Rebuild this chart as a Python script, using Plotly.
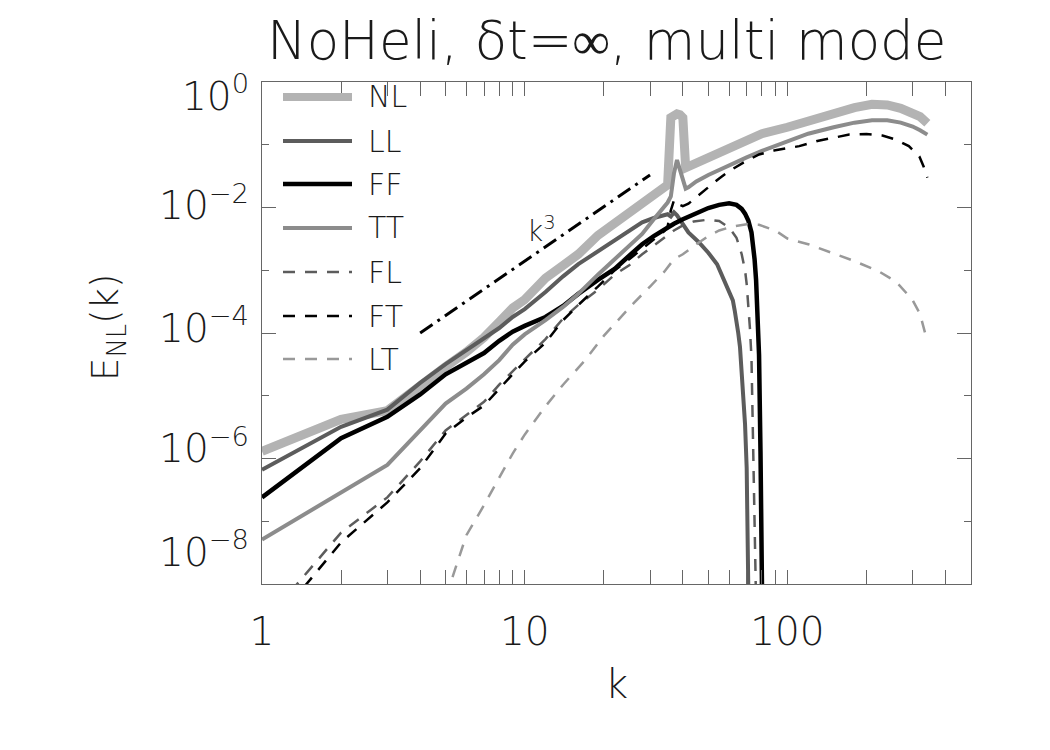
import math
import plotly.graph_objects as go

# ---------------- data ----------------
k_NL = [1, 2, 3, 4, 5, 6, 7, 8, 9, 10, 12, 14, 16, 19, 22, 25, 28, 31, 34, 35,
        36, 37, 38, 39, 40, 41, 42, 45, 50, 60, 70, 80, 100, 120, 150, 180, 210,
        240, 270, 300, 320, 341]
E_NL = [1.3e-6, 4.2e-6, 5.8e-6, 1.5e-5, 2.9e-5, 5.0e-5, 8.5e-5, 1.5e-4, 2.5e-4,
        3.4e-4, 7.5e-4, 1.2e-3, 1.8e-3, 3.6e-3, 5.6e-3, 8.5e-3, 1.2e-2, 1.6e-2,
        2.1e-2, 2.3e-2, 0.27, 0.30, 0.31, 0.30, 0.27, 4.3e-2, 4.5e-2, 5.0e-2,
        6.0e-2, 8.3e-2, 0.11, 0.15, 0.19, 0.24, 0.32, 0.39, 0.44, 0.43, 0.38,
        0.32, 0.28, 0.22]

k_LL = [1, 2, 3, 4, 5, 6, 7, 8, 9, 10, 12, 14, 16, 19, 22, 25, 28, 31, 34, 35,
        36, 37, 38, 40, 42, 46, 50, 54, 58, 62, 63, 64, 65, 66, 67, 68, 69, 70,
        71, 72]
E_LL = [6.6e-7, 3.2e-6, 6.0e-6, 1.6e-5, 3.2e-5, 5.3e-5, 8.0e-5, 1.2e-4, 1.8e-4,
        2.4e-4, 4.5e-4, 8.0e-4, 1.25e-3, 2.0e-3, 3.0e-3, 4.3e-3, 5.8e-3, 6.8e-3,
        7.6e-3, 7.8e-3, 7.2e-3, 8.4e-3, 7.5e-3, 5.5e-3, 4.0e-3, 2.8e-3, 1.9e-3,
        1.25e-3, 6.5e-4, 3.3e-4, 2.3e-4, 1.6e-4, 1.0e-4, 6.0e-5, 2.5e-5, 1.0e-5,
        3.5e-6, 7.0e-7, 3.0e-8, 1.0e-10]

k_FF = [1, 2, 3, 4, 5, 6, 7, 8, 9, 10, 12, 14, 16, 19, 22, 25, 28, 31, 34, 37,
        40, 43, 46, 50, 55, 60, 64, 67, 69, 71, 73, 74, 75, 76, 77, 78, 79, 80,
        81]
E_FF = [2.4e-7, 2.1e-6, 4.6e-6, 1.05e-5, 2.2e-5, 3.3e-5, 4.8e-5, 7.5e-5,
        1.05e-4, 1.3e-4, 1.8e-4, 2.7e-4, 4.2e-4, 7.0e-4, 1.05e-3, 1.7e-3,
        2.6e-3, 3.5e-3, 4.5e-3, 5.5e-3, 6.5e-3, 7.5e-3, 8.6e-3, 9.8e-3, 1.1e-2,
        1.17e-2, 1.1e-2, 9.5e-3, 8.0e-3, 6.2e-3, 4.0e-3, 2.6e-3, 1.5e-3, 7.0e-4,
        2.0e-4, 4.5e-5, 1.3e-6, 2.0e-8, 1.0e-10]

k_TT = [1, 2, 3, 4, 5, 6, 7, 8, 9, 10, 12, 14, 16, 19, 22, 25, 28, 31, 34, 35,
        36, 37, 38, 39, 40, 41, 42, 45, 50, 55, 62, 70, 80, 100, 120, 150, 180,
        210, 240, 270, 300, 320, 341]
E_TT = [5.1e-8, 2.8e-7, 7.9e-7, 2.8e-6, 7.5e-6, 1.3e-5, 2.2e-5, 3.7e-5, 6.5e-5,
        9.5e-5, 1.6e-4, 2.6e-4, 4.2e-4, 8.5e-4, 1.5e-3, 2.4e-3, 3.8e-3, 6.5e-3,
        1.0e-2, 1.2e-2, 1.5e-2, 3.5e-2, 5.7e-2, 4.0e-2, 2.5e-2, 2.0e-2, 2.1e-2,
        2.6e-2, 3.3e-2, 4.0e-2, 5.1e-2, 6.3e-2, 8.0e-2, 0.115, 0.15, 0.19, 0.225,
        0.245, 0.245, 0.225, 0.195, 0.17, 0.145]

k_FL = [1, 2, 3, 4, 5, 6, 7, 8, 9, 10, 12, 14, 16, 19, 22, 25, 28, 31, 34, 37,
        40, 44, 50, 55, 60, 64, 67, 69, 70, 71, 72, 73, 74, 75, 76]
E_FL = [2.2e-9, 6.6e-8, 2.4e-7, 9.0e-7, 2.8e-6, 5.0e-6, 8.0e-6, 1.5e-5, 2.5e-5,
        3.8e-5, 8.0e-5, 1.7e-4, 2.8e-4, 4.9e-4, 8.5e-4, 1.2e-3, 1.8e-3, 2.5e-3,
        3.3e-3, 4.3e-3, 5.2e-3, 6.0e-3, 6.4e-3, 6.1e-3, 4.8e-3, 3.3e-3, 1.8e-3,
        1.0e-3, 6.0e-4, 2.8e-4, 1.2e-4, 4.0e-5, 3.0e-6, 1.5e-7, 5.0e-9]

k_FT = [1, 2, 3, 4, 5, 6, 7, 8, 9, 10, 12, 14, 16, 19, 22, 25, 28, 31, 34, 35,
        36, 37, 38, 39, 40, 42, 46, 50, 55, 60, 68, 78, 90, 111, 130, 150, 172,
        200, 230, 260, 290, 318, 330, 341]
E_FT = [1.4e-9, 4.6e-8, 2.0e-7, 7.0e-7, 2.5e-6, 4.5e-6, 7.0e-6, 1.3e-5, 2.2e-5,
        3.5e-5, 7.0e-5, 1.6e-4, 2.8e-4, 5.5e-4, 1.0e-3, 1.5e-3, 2.2e-3, 3.0e-3,
        4.2e-3, 5.0e-3, 9.0e-3, 1.3e-2, 1.3e-2, 1.1e-2, 1.05e-2, 1.15e-2, 1.6e-2,
        2.1e-2, 2.9e-2, 3.8e-2, 5.2e-2, 7.0e-2, 8.2e-2, 9.5e-2, 0.115, 0.13,
        0.145, 0.148, 0.14, 0.12, 0.095, 0.065, 0.045, 0.03]

k_LT = [5, 6, 7, 8, 9, 10, 11, 12, 14, 17, 20, 23, 26, 30, 34, 37, 38, 40, 45,
        50, 55, 62, 70, 78, 90, 100, 120, 148, 180, 224, 260, 299, 320, 337]
E_LT = [6.0e-9, 6.0e-8, 1.8e-7, 5.0e-7, 1.2e-6, 2.4e-6, 4.2e-6, 6.8e-6, 1.5e-5,
        3.7e-5, 9.0e-5, 1.7e-4, 3.0e-4, 5.5e-4, 9.5e-4, 1.5e-3, 1.6e-3, 1.8e-3,
        2.6e-3, 3.5e-3, 4.3e-3, 5.0e-3, 5.4e-3, 5.3e-3, 4.3e-3, 3.2e-3, 2.6e-3,
        1.9e-3, 1.4e-3, 9.5e-4, 6.5e-4, 3.4e-4, 2.0e-4, 8.8e-5]

k_slope = [4, 30]
E_slope = [1.0e-4, 3.3e-2]

names = ["NL", "LL", "FF", "TT", "FL", "FT", "LT"]
x_ticks = [1, 10, 100]
x_ticktext = ["1", "10", "100"]
x_minor = [2, 3, 4, 5, 6, 7, 8, 9, 20, 30, 40, 50, 60, 70, 80, 90, 200, 300, 400, 500]
y_ticks = [1e-8, 1e-6, 1e-4, 1e-2, 1e0]
y_ticktext = ["10<sup>\u22128</sup>", "10<sup>\u22126</sup>", "10<sup>\u22124</sup>",
              "10<sup>\u22122</sup>", "10<sup>0</sup>"]
y_minor = [1e-7, 1e-5, 1e-3, 1e-1]

# ---------------- styling ----------------
W, H = 1050, 750
L, R, T, B = 262, 79, 82, 166
PW, PH = W - L - R, H - T - B
DECADE_PX = PH / 8.0

def px(x):
    return (x - L) / PW

def py(y):
    return (H - B - y) / PH

# IDL keeps the end labels inside the frame: per-label vertical shift (px, + = down)
y_label_shift = [-32, -10, -5, -2, 14]
y_label_pos = [10 ** (math.log10(v) - s / DECADE_PX) for v, s in zip(y_ticks, y_label_shift)]

FONT = "DejaVu Sans"
TXT = "#1a1a1a"
AX = "#666666"
DASH = "12px,10px"
LIGHT = 200

styles = {
    "NL": dict(color="#b3b3b3", width=9, dash="solid"),
    "LL": dict(color="#5c5c5c", width=4, dash="solid"),
    "FF": dict(color="#000000", width=4.5, dash="solid"),
    "TT": dict(color="#8c8c8c", width=4, dash="solid"),
    "FL": dict(color="#5c5c5c", width=2.5, dash=DASH),
    "FT": dict(color="#000000", width=2.5, dash=DASH),
    "LT": dict(color="#999999", width=2.5, dash=DASH),
}
data = {"NL": (k_NL, E_NL), "LL": (k_LL, E_LL), "FF": (k_FF, E_FF),
        "TT": (k_TT, E_TT), "FL": (k_FL, E_FL), "FT": (k_FT, E_FT),
        "LT": (k_LT, E_LT)}

fig = go.Figure()
for n in names:
    kk, ee = data[n]
    fig.add_trace(go.Scatter(x=kk, y=ee, mode="lines", name=n,
                             line=styles[n], showlegend=False))
# k^3 guide line (drawn on the label axis, which shares the same range)
fig.add_trace(go.Scatter(x=k_slope, y=E_slope, mode="lines", name="k^3",
                         yaxis="y2",
                         line=dict(color="#000000", width=3,
                                   dash="15px,6px,3px,6px"),
                         showlegend=False))

# manual legend (IDL style)
shapes = []
annotations = []
row_y = [97, 141, 184, 228, 272, 316, 359]
for n, yy in zip(names, row_y):
    st = styles[n]
    shapes.append(dict(type="line", xref="paper", yref="paper",
                       x0=px(283), x1=px(352), y0=py(yy), y1=py(yy),
                       line=dict(color=st["color"], width=min(st["width"], 8),
                                 dash=st["dash"])))
    annotations.append(dict(x=px(366), y=py(yy), xref="paper", yref="paper",
                            text=n, showarrow=False, xanchor="left",
                            yanchor="middle",
                            font=dict(family=FONT, size=30, color=TXT, weight=LIGHT)))

annotations += [
    dict(x=px(606), y=py(40), xref="paper", yref="paper",
         text="NoHeli, \u03b4t=\u221e, multi mode", showarrow=False,
         xanchor="center", yanchor="middle",
         font=dict(family=FONT, size=53, color=TXT, weight=LIGHT)),
    dict(x=px(616), y=py(684), xref="paper", yref="paper", text="k",
         showarrow=False, xanchor="center", yanchor="middle",
         font=dict(family=FONT, size=40, color=TXT, weight=LIGHT)),
    dict(x=px(108), y=py(328), xref="paper", yref="paper",
         text="E<sub>NL</sub>(k)", showarrow=False, textangle=-90,
         xanchor="center", yanchor="middle",
         font=dict(family=FONT, size=37, color=TXT, weight=LIGHT)),
    dict(x=px(541), y=py(230), xref="paper", yref="paper",
         text="k<sup>3</sup>", showarrow=False, xanchor="center",
         yanchor="middle",
         font=dict(family=FONT, size=28, color=TXT, weight=LIGHT)),
]

TICKFONT = dict(family=FONT, size=39, color=TXT, weight=LIGHT)
axis_common = dict(type="log", showline=True, linecolor=AX, linewidth=1,
                   mirror="allticks", ticks="inside", ticklen=14,
                   tickcolor=AX, tickwidth=1, showgrid=False, zeroline=False,
                   tickfont=TICKFONT)

fig.update_layout(
    width=W, height=H,
    margin=dict(l=L, r=R, t=T, b=B, pad=0),
    paper_bgcolor="white", plot_bgcolor="white",
    showlegend=False,
    shapes=shapes, annotations=annotations,
    xaxis=dict(**axis_common, range=[0, 2.69897], tickvals=x_ticks,
               ticktext=x_ticktext, ticklabelstandoff=13,
               minor=dict(tickvals=x_minor, ticks="inside", ticklen=7,
                          tickcolor=AX, tickwidth=1, showgrid=False)),
    yaxis=dict(**axis_common, range=[-8, 0], tickvals=y_ticks,
               showticklabels=False,
               minor=dict(tickvals=y_minor, ticks="inside", ticklen=7,
                          tickcolor=AX, tickwidth=1, showgrid=False)),
    yaxis2=dict(type="log", range=[-8, 0], overlaying="y", side="left",
                showline=False, showgrid=False, zeroline=False, ticks="",
                tickvals=y_label_pos, ticktext=y_ticktext,
                ticklabelstandoff=12, tickfont=TICKFONT),
)

fig.write_html("out.html")
